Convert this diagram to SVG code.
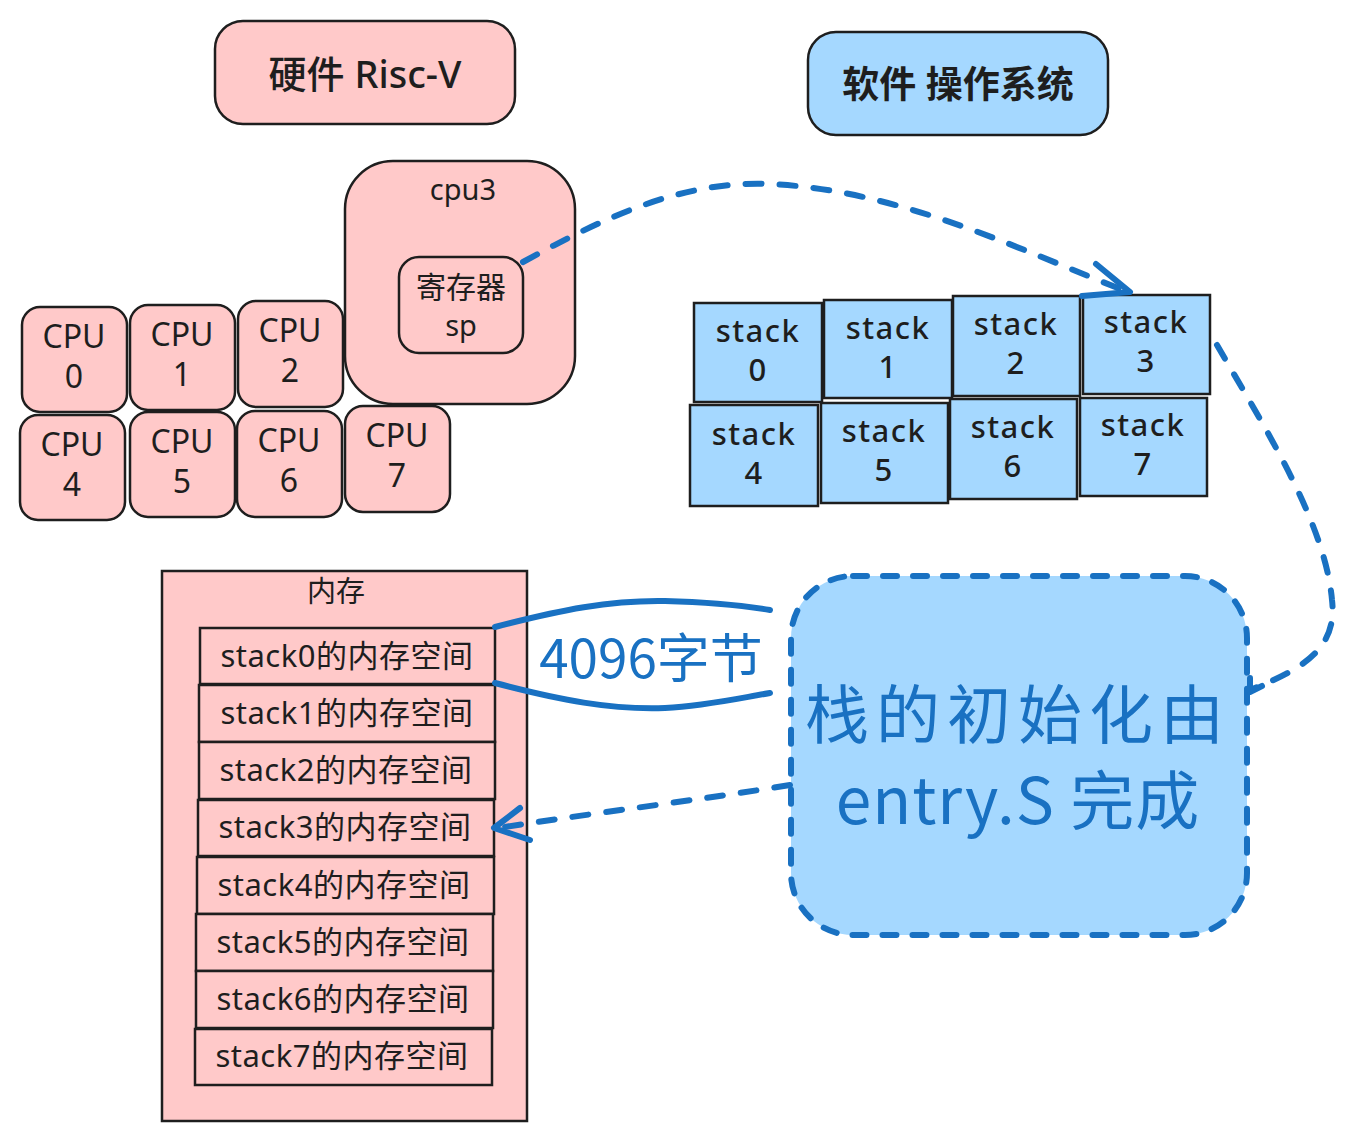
<svg xmlns="http://www.w3.org/2000/svg" width="1351" height="1141" viewBox="0 0 1351 1141">
<defs>
<style>
.pink{fill:#ffc9c9;stroke:#1e1e1e;stroke-width:2.5}
.blue{fill:#a5d8ff;stroke:#1e1e1e;stroke-width:2.5}
.t{font-family:"Noto Sans","Noto Sans CJK SC",sans-serif;fill:#1e1e1e;text-anchor:middle}
.cpu{font-size:32px}
.stk{font-size:31px;font-weight:500;letter-spacing:1.5px}
.mem{font-size:31px;letter-spacing:0.5px;font-family:"Noto Sans","Noto Sans CJK SC",sans-serif;fill:#1e1e1e;text-anchor:middle}
.arr{fill:none;stroke:#1971c2;stroke-width:6;stroke-linecap:round;stroke-linejoin:round}
.dash{stroke-dasharray:16 18}
.bt{font-family:"Noto Sans CJK SC",sans-serif;fill:#1971c2;text-anchor:middle}
</style>
</defs>
<rect width="1351" height="1141" fill="#ffffff"/>

<g id="title-hw">
<rect class="pink" x="215" y="21" width="300" height="103" rx="28"/>
<text class="t" x="365" y="88" font-size="38" font-weight="500">硬件 Risc-V</text>
</g>
<g id="title-sw">
<rect class="blue" x="808" y="32" width="300" height="103" rx="28"/>
<text class="t" x="958" y="98" font-size="37" font-weight="bold">软件 操作系统</text>
</g>

<g id="cpu3">
<rect class="pink" x="345" y="161" width="230" height="243" rx="48"/>
<text class="t" x="463" y="200" font-size="29">cpu3</text>
</g>
<g id="reg-sp">
<rect class="pink" x="399" y="257" width="124" height="96" rx="20"/>
<text class="t" x="461" y="298" font-size="30">寄存器</text>
<text class="t" x="461" y="336" font-size="29">sp</text>
</g>

<g id="cpu0"><rect class="pink" x="22" y="307" width="105" height="105" rx="18"/><text class="t cpu" x="74" y="348">CPU</text><text class="t cpu" x="74" y="388">0</text></g>
<g id="cpu1"><rect class="pink" x="130" y="305" width="105" height="105" rx="18"/><text class="t cpu" x="182" y="346">CPU</text><text class="t cpu" x="182" y="386">1</text></g>
<g id="cpu2"><rect class="pink" x="238" y="301" width="105" height="106" rx="18"/><text class="t cpu" x="290" y="342">CPU</text><text class="t cpu" x="290" y="382">2</text></g>
<g id="cpu4"><rect class="pink" x="20" y="415" width="105" height="105" rx="18"/><text class="t cpu" x="72" y="456">CPU</text><text class="t cpu" x="72" y="496">4</text></g>
<g id="cpu5"><rect class="pink" x="130" y="412" width="105" height="105" rx="18"/><text class="t cpu" x="182" y="453">CPU</text><text class="t cpu" x="182" y="493">5</text></g>
<g id="cpu6"><rect class="pink" x="237" y="411" width="105" height="106" rx="18"/><text class="t cpu" x="289" y="452">CPU</text><text class="t cpu" x="289" y="492">6</text></g>
<g id="cpu7"><rect class="pink" x="345" y="406" width="105" height="106" rx="18"/><text class="t cpu" x="397" y="447">CPU</text><text class="t cpu" x="397" y="487">7</text></g>

<g id="stack0"><rect class="blue" x="694" y="303" width="128" height="99"/><text class="t stk" x="758" y="342">stack</text><text class="t stk" x="758" y="381">0</text></g>
<g id="stack1"><rect class="blue" x="824" y="300" width="128" height="98"/><text class="t stk" x="888" y="339">stack</text><text class="t stk" x="888" y="378">1</text></g>
<g id="stack2"><rect class="blue" x="953" y="296" width="127" height="100"/><text class="t stk" x="1016" y="335">stack</text><text class="t stk" x="1016" y="374">2</text></g>
<g id="stack3"><rect class="blue" x="1083" y="295" width="127" height="99"/><text class="t stk" x="1146" y="333">stack</text><text class="t stk" x="1146" y="372">3</text></g>
<g id="stack4"><rect class="blue" x="690" y="405" width="128" height="101"/><text class="t stk" x="754" y="445">stack</text><text class="t stk" x="754" y="484">4</text></g>
<g id="stack5"><rect class="blue" x="821" y="403" width="127" height="100"/><text class="t stk" x="884" y="442">stack</text><text class="t stk" x="884" y="481">5</text></g>
<g id="stack6"><rect class="blue" x="950" y="399" width="127" height="100"/><text class="t stk" x="1013" y="438">stack</text><text class="t stk" x="1013" y="477">6</text></g>
<g id="stack7"><rect class="blue" x="1080" y="398" width="127" height="98"/><text class="t stk" x="1143" y="436">stack</text><text class="t stk" x="1143" y="475">7</text></g>

<g id="memory">
<rect class="pink" x="162" y="571" width="365" height="550" stroke-width="2"/>
<text class="t" x="336" y="602" font-size="29">内存</text>
</g>
<g id="mem0"><rect class="pink" x="200" y="628" width="295" height="56" stroke-width="2"/><text class="mem" x="347" y="667">stack0的内存空间</text></g>
<g id="mem1"><rect class="pink" x="199" y="685" width="296" height="57" stroke-width="2"/><text class="mem" x="347" y="724">stack1的内存空间</text></g>
<g id="mem2"><rect class="pink" x="199" y="742" width="296" height="57" stroke-width="2"/><text class="mem" x="346" y="781">stack2的内存空间</text></g>
<g id="mem3"><rect class="pink" x="198" y="800" width="296" height="56" stroke-width="2"/><text class="mem" x="345" y="838">stack3的内存空间</text></g>
<g id="mem4"><rect class="pink" x="197" y="857" width="297" height="57" stroke-width="2"/><text class="mem" x="344" y="896">stack4的内存空间</text></g>
<g id="mem5"><rect class="pink" x="196" y="914" width="297" height="57" stroke-width="2"/><text class="mem" x="343" y="953">stack5的内存空间</text></g>
<g id="mem6"><rect class="pink" x="196" y="971" width="297" height="57" stroke-width="2"/><text class="mem" x="343" y="1010">stack6的内存空间</text></g>
<g id="mem7"><rect class="pink" x="195" y="1029" width="297" height="56" stroke-width="2"/><text class="mem" x="342" y="1067">stack7的内存空间</text></g>

<g id="note">
<rect x="791" y="576" width="456" height="359" rx="62" fill="#a5d8ff" stroke="#1971c2" stroke-width="6" stroke-dasharray="14 16" stroke-linecap="round"/>
<text class="bt" x="1018" y="738" font-size="64" letter-spacing="7">栈的初始化由</text>
<text class="bt" x="1018" y="824" font-size="64" letter-spacing="1">entry.S 完成</text>
</g>

<g id="size-label">
<text class="bt" x="651" y="678" font-size="53">4096字节</text>
</g>

<g id="connectors">
<path class="arr" d="M495 627 C560 610 610 600 665 601 C705 602 740 605 770 610"/>
<path class="arr" d="M495 683 C560 700 610 710 665 708 C705 706 740 698 770 693"/>
<path class="arr dash" d="M523 262 C600 220 680 180 770 184 C900 190 1020 250 1128 292"/>
<path class="arr" d="M1096 264 L1130 292 L1082 296"/>
<path class="arr dash" d="M1217 345 C1260 420 1325 520 1332 600 C1338 650 1300 670 1250 690"/>
<path class="arr" d="M1250 678 L1250 692 L1262 686"/>
<path class="arr dash" d="M790 785 C700 800 600 812 498 828"/>
<path class="arr" d="M520 808 L494 828 L530 840"/>
</g>
</svg>
